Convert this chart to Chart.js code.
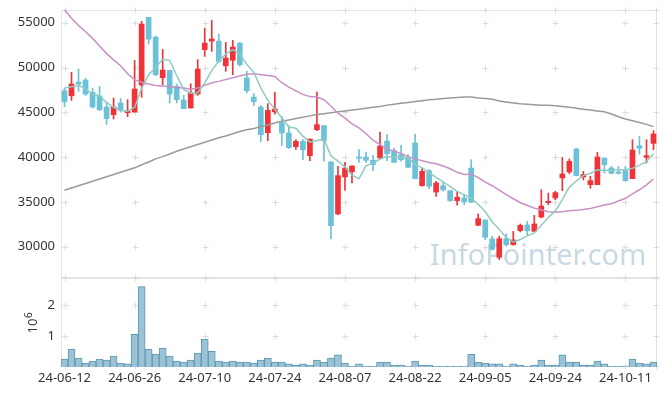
<!DOCTYPE html>
<html>
<head>
<meta charset="utf-8">
<script src="https://cdn.jsdelivr.net/npm/chart.js@4.4.1/dist/chart.umd.min.js"></script>
<style>
  body { margin: 0; background: #fff; }
  #wrap { position: relative; width: 665px; height: 396px; }
  canvas { position: absolute; left: 0; }
  #priceChart { top: 0; }
  #volumeChart { top: 278px; }
</style>
</head>
<body>
<div id="wrap">
  <canvas id="priceChart" width="665" height="278"></canvas>
  <canvas id="volumeChart" width="665" height="118"></canvas>
</div>
<script>
// dados
const dates = [
  '24-06-12','24-06-13','24-06-14','24-06-17','24-06-18','24-06-19','24-06-20','24-06-21','24-06-24','24-06-25',
  '24-06-26','24-06-27','24-06-28','24-07-01','24-07-02','24-07-03','24-07-04','24-07-05','24-07-08','24-07-09',
  '24-07-10','24-07-11','24-07-12','24-07-15','24-07-16','24-07-17','24-07-18','24-07-19','24-07-22','24-07-23',
  '24-07-24','24-07-25','24-07-26','24-07-29','24-07-30','24-07-31','24-08-01','24-08-02','24-08-05','24-08-06',
  '24-08-07','24-08-08','24-08-09','24-08-12','24-08-13','24-08-14','24-08-16','24-08-19','24-08-20','24-08-21',
  '24-08-22','24-08-23','24-08-26','24-08-27','24-08-28','24-08-29','24-08-30','24-09-02','24-09-03','24-09-04',
  '24-09-05','24-09-06','24-09-09','24-09-10','24-09-11','24-09-12','24-09-13','24-09-19','24-09-20','24-09-23',
  '24-09-24','24-09-25','24-09-26','24-09-27','24-09-30','24-10-02','24-10-04','24-10-07','24-10-08','24-10-10',
  '24-10-11','24-10-14','24-10-15','24-10-16','24-10-17'
];

const opens = [
  47410, 46850, 48380, 48600, 47230, 46820, 45590, 44730, 46040, 44960,
  45030, 48040, 55600, 53400, 48860, 49680, 47900, 46370, 45480, 47040,
  51990, 52950, 52950, 50200, 50800, 52730, 48830, 46700, 45590, 42720,
  45070, 43840, 42690, 41160, 41760, 40160, 43060, 43510, 39450, 33650,
  37780, 38370, 40010, 40010, 39640, 39900, 41790, 40720, 40270, 39970,
  41570, 36810, 38480, 36100, 36810, 36250, 35140, 35430, 38780, 32380,
  32980, 30860, 28810, 30890, 30230, 31790, 32420, 31710, 33310, 34910,
  35430, 37670, 38340, 40900, 37780, 36920, 36920, 39900, 38780, 38340,
  38480, 37590, 41270, 39970, 41530
];
const highs = [
  47710, 49460, 49830, 48790, 47710, 47900, 46150, 46590, 46560, 46410,
  50800, 55150, 55600, 53510, 52020, 49680, 48160, 46890, 48190, 50870,
  54400, 55260, 53740, 52800, 53030, 52800, 49570, 47080, 45770, 45960,
  47230, 44550, 43500, 41940, 41940, 42020, 47260, 43510, 39530, 38970,
  39410, 39010, 40830, 40570, 40200, 42800, 42500, 41010, 41310, 40270,
  42580, 38780, 38600, 37290, 37220, 36250, 36070, 35730, 39710, 33650,
  32980, 31160, 31160, 31420, 31710, 32530, 32830, 33500, 36360, 35990,
  36180, 39970, 39790, 41010, 38410, 37850, 40530, 39900, 38970, 38970,
  38970, 41940, 42320, 41940, 42950
];
const lows = [
  45630, 46330, 47340, 46890, 45480, 45180, 43650, 44250, 45030, 44510,
  45030, 46670, 52620, 49090, 48080, 46040, 46040, 45400, 45480, 46890,
  51240, 51800, 50570, 49570, 49200, 50130, 47150, 45770, 41760, 41830,
  44810, 41310, 40980, 40860, 39710, 39600, 42950, 39530, 30860, 33570,
  36290, 37110, 39410, 39410, 38480, 39790, 39600, 39410, 39530, 38780,
  37590, 36740, 36470, 35620, 36180, 35060, 34620, 34690, 34950, 32380,
  30780, 29630, 28550, 30040, 30150, 31640, 31340, 31710, 33200, 34690,
  35250, 36250, 38150, 37930, 37440, 36510, 36920, 38220, 38110, 38110,
  37290, 37590, 40340, 39340, 40830
];
const closes = [
  46180, 48160, 48160, 47040, 45590, 45290, 44290, 45590, 45220, 45140,
  47600, 54850, 53180, 49200, 49720, 47040, 46410, 45400, 47150, 49830,
  52730, 53180, 50690, 51060, 52290, 50310, 47410, 46180, 42500, 45220,
  45370, 42690, 41050, 41760, 40830, 42020, 43620, 41830, 32350, 37930,
  38780, 39010, 39860, 39640, 39150, 41240, 40380, 39410, 39710, 38860,
  37590, 38410, 36740, 37110, 36330, 35140, 35510, 34990, 34950, 33130,
  31040, 29700, 30890, 30230, 30750, 32380, 31790, 32530, 34540, 35060,
  36030, 38110, 39530, 37930, 38040, 37370, 40010, 39150, 38190, 38190,
  37370, 40790, 40980, 40160, 42580
];

const ma5 = [
  47710, 47860, 48010, 47640, 47020, 46850, 46070, 45560, 45200, 45110,
  45570, 47680, 49200, 49990, 50910, 50800, 49110, 47550, 47140, 47170,
  48300, 49660, 50720, 51500, 51990, 51500, 50350, 49450, 47740, 46330,
  45340, 44390, 43360, 43220, 42340, 41670, 41850, 42010, 40130, 39550,
  38900, 37980, 37580, 39040, 39290, 39780, 40050, 39960, 39980, 39920,
  39190, 38800, 38260, 37740, 37230, 36740, 36160, 35810, 35380, 34740,
  33920, 32760, 31940, 31000, 30520, 30790, 31210, 31530, 32400, 33260,
  33990, 35250, 36650, 37330, 37930, 38190, 38570, 38500, 38550, 38580,
  38580, 38740, 39100, 39500, 40370
];
const ma20 = [
  56450, 55500, 54700, 53990, 53250, 52400, 51550, 50850, 50200, 49300,
  48650, 48350, 48150, 48000, 47930, 47850, 47780, 47700, 47570, 47700,
  48000, 48300, 48450, 48650, 48850, 49050, 49250, 49300, 49200, 49100,
  49000, 48300, 47800, 47400, 47000, 46750, 46700, 46400, 45700, 44900,
  44350, 43700, 43250, 42600, 41900, 41400, 40900, 40650, 40400, 40050,
  39800, 39600, 39400, 39250, 39000, 38700, 38300, 38050, 38100, 37700,
  37200, 36800, 36300, 35800, 35350, 34900, 34600, 34300, 34100, 33900,
  33850, 33900, 34000, 34050, 34150, 34250, 34450, 34650, 34800, 35100,
  35400, 35900, 36350, 36900, 37550
];
const ma60 = [
  36300, 36550, 36800, 37050, 37300, 37550, 37800, 38050, 38300, 38550,
  38800, 39150, 39450, 39800, 40050, 40350, 40650, 40900, 41150, 41400,
  41650, 41900, 42150, 42350, 42600, 42850, 43050, 43200, 43400, 43600,
  43800, 44000, 44150, 44300, 44450, 44600, 44750, 44850, 44950, 45050,
  45150, 45250, 45350, 45450, 45550, 45650, 45800, 45900, 46000, 46100,
  46200, 46300, 46400, 46450, 46550, 46600, 46650, 46700, 46700, 46600,
  46550, 46450, 46250, 46150, 46050, 45950, 45900, 45850, 45800, 45780,
  45740, 45650, 45550, 45450, 45350, 45250, 45150, 45050, 44800, 44500,
  44250, 44050, 43850, 43650, 43400
];

// volume em milhões (eixo 10^6)
const volumes = [
  0.26, 0.58, 0.29, 0.13, 0.19, 0.26, 0.22, 0.35, 0.13, 0.10,
  1.06, 2.60, 0.58, 0.42, 0.61, 0.35, 0.19, 0.16, 0.22, 0.45,
  0.90, 0.51, 0.19, 0.16, 0.19, 0.16, 0.16, 0.13, 0.22, 0.29,
  0.16, 0.16, 0.10, 0.06, 0.10, 0.06, 0.22, 0.16, 0.29, 0.39,
  0.13, 0.03, 0.10, 0.03, 0.03, 0.16, 0.16, 0.06, 0.06, 0.03,
  0.19, 0.06, 0.06, 0.03, 0.03, 0.03, 0.03, 0.03, 0.42, 0.16,
  0.13, 0.10, 0.10, 0.03, 0.10, 0.06, 0.03, 0.06, 0.22, 0.06,
  0.06, 0.39, 0.16, 0.16, 0.06, 0.06, 0.19, 0.10, 0.03, 0.03,
  0.03, 0.26, 0.13, 0.10, 0.16
];

const priceTicks = [30000, 35000, 40000, 45000, 50000, 55000];
const volumeTicks = [1, 2];
const labelStep = 10;

const UP = '#ef3339';
const DOWN = '#6bc1d7';
const candleColors = closes.map((c, i) => (c >= opens[i] ? UP : DOWN));

Chart.defaults.font.family = "'Noto Sans', sans-serif";
Chart.defaults.font.size = 13;
Chart.defaults.color = '#333';

// sem folga extra em volta dos eixos
function fixY(s) {
  s.width = 61;
  s.paddingTop = 0;
  s.paddingBottom = 0;
}

// grade em forma de "+" e moldura
function crossGrid(yTicks) {
  return {
    id: 'crossGrid',
    beforeDatasetsDraw(chart) {
      const { ctx, chartArea: a, scales } = chart;
      ctx.save();
      ctx.strokeStyle = '#e4e4e4';
      ctx.lineWidth = 1;
      ctx.strokeRect(Math.round(a.left) + 0.5, Math.round(a.top) + 0.5,
        Math.round(a.right - a.left) - 1, Math.round(a.bottom - a.top) - 1);

      const xs = [];
      for (let i = 0; i < dates.length; i += labelStep) xs.push(scales.x.getPixelForValue(i));
      xs.push(a.right - 1);
      const ys = yTicks.map(v => scales.y.getPixelForValue(v));
      ys.push(a.top, a.bottom - 1);

      ctx.strokeStyle = '#dcdcdc';
      ctx.beginPath();
      xs.forEach(x => {
        ys.forEach(y => {
          const px = Math.round(x) + 0.5, py = Math.round(y) + 0.5;
          ctx.moveTo(px - 3, py); ctx.lineTo(px + 3, py);
          ctx.moveTo(px, py - 3); ctx.lineTo(px, py + 3);
        });
      });
      ctx.stroke();
      ctx.restore();
    }
  };
}

const watermark = {
  id: 'watermark',
  beforeDatasetsDraw(chart) {
    const ctx = chart.ctx;
    ctx.save();
    ctx.font = "30px 'Noto Sans', sans-serif";
    const w = ctx.measureText('InfoPointer.com').width;
    const size = 30 * 216 / w;
    ctx.font = size.toFixed(1) + "px 'Noto Sans', sans-serif";
    ctx.fillStyle = '#c6d9e5';
    ctx.textBaseline = 'alphabetic';
    ctx.fillText('InfoPointer.com', 430, 265);
    ctx.restore();
  }
};

const volTitle = {
  id: 'volTitle',
  afterDraw(chart) {
    const ctx = chart.ctx;
    ctx.save();
    ctx.translate(33, 48);
    ctx.rotate(-Math.PI / 2);
    ctx.fillStyle = '#333';
    ctx.textBaseline = 'middle';
    ctx.textAlign = 'center';
    ctx.font = "13px 'Noto Sans', sans-serif";
    ctx.fillText('10', 0, 0);
    ctx.textAlign = 'left';
    ctx.font = "10px 'Noto Sans', sans-serif";
    ctx.fillText('6', 8, -4);
    ctx.restore();
  }
};

function initPriceChart() {
  const ctx = document.getElementById('priceChart');
  if (!ctx) return;

  new Chart(ctx, {
    type: 'bar',
    data: {
      labels: dates,
      datasets: [{
        type: 'line',
        label: 'MA5',
        data: ma5,
        borderColor: '#8fcbc1',
        borderWidth: 1.5,
        pointRadius: 0,
        order: 0
      }, {
        type: 'line',
        label: 'MA20',
        data: ma20,
        borderColor: '#c990c5',
        borderWidth: 1.5,
        pointRadius: 0,
        order: 0
      }, {
        type: 'line',
        label: 'MA60',
        data: ma60,
        borderColor: '#9a9a9a',
        borderWidth: 1.5,
        pointRadius: 0,
        order: 0
      }, {
        label: 'Corpo',
        data: opens.map((o, i) => [o, closes[i]]),
        backgroundColor: candleColors,
        barThickness: 5,
        minBarLength: 1,
        grouped: false,
        order: 1
      }, {
        label: 'Pavio',
        data: lows.map((l, i) => [l, highs[i]]),
        backgroundColor: candleColors,
        barThickness: 1,
        grouped: false,
        order: 2
      }]
    },
    options: {
      responsive: false,
      animation: false,
      devicePixelRatio: 1,
      layout: { padding: { top: 10, right: 8, left: 0, bottom: 0 } },
      plugins: {
        legend: { display: false },
        tooltip: { enabled: false }
      },
      scales: {
        x: {
          display: false,
          offset: true
        },
        y: {
          min: 26500,
          max: 56420,
          grid: { display: false, drawTicks: false },
          border: { display: false },
          afterBuildTicks: s => { s.ticks = priceTicks.map(v => ({ value: v })); },
          afterFit: fixY,
          ticks: { padding: 6, color: '#333', callback: v => String(v) }
        }
      }
    },
    plugins: [crossGrid(priceTicks), watermark]
  });
}

function initVolumeChart() {
  const ctx = document.getElementById('volumeChart');
  if (!ctx) return;

  new Chart(ctx, {
    type: 'bar',
    data: {
      labels: dates,
      datasets: [{
        label: 'Volume',
        data: volumes,
        backgroundColor: '#9cc3d5',
        borderColor: '#5f97b2',
        borderWidth: 1,
        barPercentage: 1,
        categoryPercentage: 1
      }]
    },
    options: {
      responsive: false,
      animation: false,
      devicePixelRatio: 1,
      layout: { padding: { top: 0, right: 8, left: 0, bottom: 0 } },
      plugins: {
        legend: { display: false },
        tooltip: { enabled: false }
      },
      scales: {
        x: {
          offset: true,
          grid: { display: false, drawTicks: false },
          border: { display: false },
          afterFit: s => {
            s.height = 29;
            s.paddingLeft = 0;
            s.paddingRight = 0;
          },
          ticks: {
            autoSkip: false,
            maxRotation: 0,
            padding: 3,
            color: '#333',
            callback: (v, i) => (i % labelStep === 0 ? dates[i] : '')
          }
        },
        y: {
          min: 0,
          max: 2.88,
          grid: { display: false, drawTicks: false },
          border: { display: false },
          afterBuildTicks: s => { s.ticks = volumeTicks.map(v => ({ value: v })); },
          afterFit: fixY,
          ticks: { padding: 6, color: '#333' }
        }
      }
    },
    plugins: [crossGrid(volumeTicks), volTitle]
  });
}

document.addEventListener('DOMContentLoaded', () => {
  initPriceChart();
  initVolumeChart();
});
</script>
</body>
</html>
